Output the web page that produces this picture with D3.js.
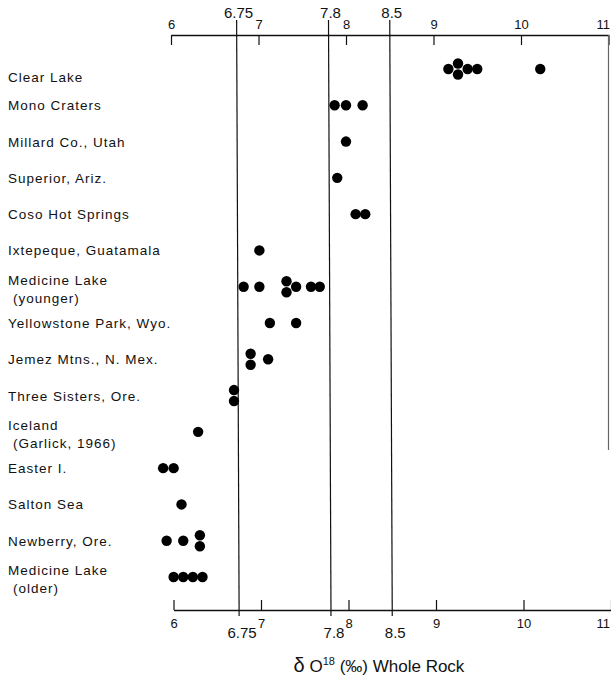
<!DOCTYPE html>
<html>
<head>
<meta charset="utf-8">
<script src="https://cdn.jsdelivr.net/npm/d3@7"></script>
<style>
  body { margin: 0; background: #fff; }
  svg text { font-family: "Liberation Sans", Arial, sans-serif; fill: #111; }
</style>
</head>
<body>
<svg id="chart"></svg>
<script>
// localities, top to bottom ("|" splits a two-line label)
const localities = [
  "Clear Lake",
  "Mono Craters",
  "Millard Co., Utah",
  "Superior, Ariz.",
  "Coso Hot Springs",
  "Ixtepeque, Guatamala",
  "Medicine Lake|(younger)",
  "Yellowstone Park, Wyo.",
  "Jemez Mtns., N. Mex.",
  "Three Sisters, Ore.",
  "Iceland|(Garlick, 1966)",
  "Easter I.",
  "Salton Sea",
  "Newberry, Ore.",
  "Medicine Lake|(older)"
]

// delta O18 whole rock, one list per locality (same order)
const d18O = [
  [9.17, 9.28, 9.28, 9.39, 9.5, 10.22],
  [7.87, 8.0, 8.19],
  [8.0],
  [7.9],
  [8.11, 8.22],
  [7.01],
  [6.83, 7.01, 7.32, 7.32, 7.43, 7.6, 7.7],
  [7.13, 7.43],
  [6.91, 6.91, 7.11],
  [6.72, 6.72],
  [6.31],
  [5.91, 6.03],
  [6.12],
  [5.95, 6.14, 6.33, 6.33],
  [6.03, 6.14, 6.25, 6.36]
]

const axisTicks = [6, 7, 8, 9, 10, 11]
const markerValues = [6.75, 7.8, 8.5]

let width = 611
let height = 677
let topY = 35
let bottomY = 610

let svg = d3.select('#chart')
  .attr('width', width)
  .attr('height', height)

// the scan is a little skewed, so top and bottom axes get their own range
let xTop = d3.scaleLinear().domain([6, 11]).range([171, 608.5])
let xBot = d3.scaleLinear().domain([6, 11]).range([173.5, 611])

let y = d3.scalePoint()
          .domain(localities)
          .range([69, 577])

// Axes
let gTop = svg.append('g')
   .attr('transform', `translate(0, ${topY})`)
   .call(d3.axisTop(xTop).tickValues(axisTicks).tickFormat(d3.format('d'))
     .tickSizeInner(-10).tickSizeOuter(0).tickPadding(6))

let gBot = svg.append('g')
   .attr('transform', `translate(0, ${bottomY})`)
   .call(d3.axisBottom(xBot).tickValues(axisTicks).tickFormat(d3.format('d'))
     .tickSizeInner(-10).tickSizeOuter(0).tickPadding(9))

svg.selectAll('.domain').style('stroke', '#111').style('stroke-width', 1.5)
svg.selectAll('.tick line').style('stroke', '#111').style('stroke-width', 1.2)
svg.selectAll('.tick text').style('font-size', '13px').style('fill', '#111')
   .style('font-family', '"Liberation Sans", Arial, sans-serif')
// last label sits at the right edge of the page
gTop.selectAll('.tick text').filter(d => d == 11)
    .attr('text-anchor', 'end').attr('x', 609.5 - xTop(11))
gBot.selectAll('.tick text').filter(d => d == 11)
    .attr('text-anchor', 'end').attr('x', 609.5 - xBot(11))

// right hand frame edge under the 11 tick
svg.append('line')
   .attr('x1', xTop(11)).attr('x2', xTop(11))
   .attr('y1', topY).attr('y2', 450)
   .style('stroke', '#666').style('stroke-width', 1.2)

// reference lines 6.75, 7.8, 8.5
let mg = svg.append('g')
mg.selectAll('line')
  .data(markerValues)
  .enter()
  .append('line')
  .attr('x1', d => xTop(d))
  .attr('x2', d => xBot(d))
  .attr('y1', 20)
  .attr('y2', 616)
  .style('stroke', '#111')
  .style('stroke-width', 1.2)

mg.selectAll('text.mtop')
  .data(markerValues)
  .enter()
  .append('text')
  .attr('class', 'mtop')
  .attr('x', d => xTop(d) + 2)
  .attr('y', 18)
  .attr('text-anchor', 'middle')
  .style('font-size', '15px')
  .text(d => d)

mg.selectAll('text.mbot')
  .data(markerValues)
  .enter()
  .append('text')
  .attr('class', 'mbot')
  .attr('x', d => xBot(d) + 3)
  .attr('y', 638)
  .attr('text-anchor', 'middle')
  .style('font-size', '15px')
  .text(d => d)

// Locality labels
let lg = svg.append('g')
localities.forEach((loc, i) => {
  let lines = loc.split('|')
  let yy = y(loc)
  if (lines.length == 1) {
    lg.append('text')
      .attr('x', 8)
      .attr('y', yy + 5 + (i == 0 ? 8 : 0))
      .style('font-size', '13.5px')
      .style('letter-spacing', '1px')
      .text(lines[0])
  } else {
    lg.append('text')
      .attr('x', 8)
      .attr('y', yy - 2)
      .style('font-size', '13.5px')
      .style('letter-spacing', '1px')
      .text(lines[0])
    lg.append('text')
      .attr('x', 13)
      .attr('y', yy + 16)
      .style('font-size', '13.5px')
      .style('letter-spacing', '1px')
      .text(lines[1])
  }
})

// Points: repeated values in a row are stacked vertically
let points = []
localities.forEach((loc, i) => {
  let counts = d3.rollup(d18O[i], v => v.length, v => v)
  let seen = new Map()
  d18O[i].forEach(v => {
    let n = counts.get(v)
    let k = seen.get(v) || 0
    seen.set(v, k + 1)
    points.push({loc: loc, value: v, stack: k - (n - 1) / 2})
  })
})

svg.append('g')
  .selectAll('circle')
  .data(points)
  .enter()
  .append('circle')
  .attr('cx', d => xTop(d.value))
  .attr('cy', d => y(d.loc) + d.stack * 11)
  .attr('r', 5.2)
  .style('fill', '#000')

// Axis title
let title = svg.append('text')
  .attr('x', 379)
  .attr('y', 672)
  .attr('text-anchor', 'middle')
  .style('font-size', '17px')
title.append('tspan').style('font-size', '20px').text('δ')
title.append('tspan').text(' O')
title.append('tspan').attr('dy', -7).style('font-size', '11px').text('18')
title.append('tspan').attr('dy', 7).text(' (‰) Whole Rock')
</script>
</body>
</html>
